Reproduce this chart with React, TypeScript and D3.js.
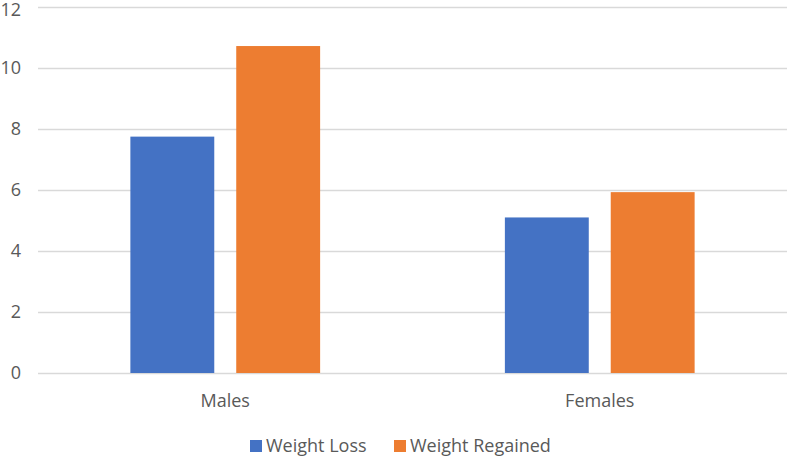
import { useEffect, useRef } from 'react';
import * as d3 from 'd3';

// values
const groups = ['Males', 'Females'];
const seriesNames = ['Weight Loss', 'Weight Regained'];
const seriesColors = ['#4472C4', '#ED7D31'];
const weightLoss = [7.75, 5.1];
const weightRegained = [10.72, 5.93];
const yTicks = [0, 2, 4, 6, 8, 10, 12];

export default function App() {
  const svgRef = useRef<SVGSVGElement>(null);

  useEffect(() => {
    if (!svgRef.current) return;
    const svg = d3.select(svgRef.current);
    svg.selectAll('*').remove();

    const width = 787;
    const height = 456;
    const margin = { top: 7, right: 0, bottom: 83, left: 38 };
    const font = '"Open Sans", "Liberation Sans", sans-serif';
    const fontSize = '18px';
    const textColor = '#595959';

    const x = d3
      .scaleBand<string>()
      .domain(groups)
      .range([margin.left, width - margin.right])
      .padding(0);

    const xInner = d3
      .scaleBand<string>()
      .domain(seriesNames)
      .range([0, x.bandwidth()])
      .paddingInner(0.2075)
      .paddingOuter(0.8726);

    const y = d3
      .scaleLinear()
      .domain([0, 12])
      .range([height - margin.bottom, margin.top]);

    const color = d3.scaleOrdinal<string>().domain(seriesNames).range(seriesColors);

    // gridlines
    svg
      .append('g')
      .selectAll('line')
      .data(yTicks)
      .enter()
      .append('line')
      .attr('x1', margin.left)
      .attr('x2', width - margin.right)
      .attr('y1', (d) => Math.round(y(d)) + 0.5)
      .attr('y2', (d) => Math.round(y(d)) + 0.5)
      .attr('stroke', '#D9D9D9')
      .attr('stroke-width', 1.5);

    // y tick labels (top one nudged down so it stays inside the frame)
    svg
      .append('g')
      .selectAll('text')
      .data(yTicks)
      .enter()
      .append('text')
      .attr('x', 21)
      .attr('y', (d) => Math.max(y(d), 10))
      .attr('dy', '0.35em')
      .attr('text-anchor', 'end')
      .attr('font-family', font)
      .attr('font-size', fontSize)
      .attr('fill', textColor)
      .text((d) => d);

    // bars
    const rows = groups.map((g, i) => ({
      group: g,
      values: [
        { name: seriesNames[0], value: weightLoss[i] },
        { name: seriesNames[1], value: weightRegained[i] },
      ],
    }));

    const groupSel = svg
      .append('g')
      .selectAll('g')
      .data(rows)
      .enter()
      .append('g')
      .attr('transform', (d) => `translate(${x(d.group)},0)`);

    groupSel
      .selectAll('rect')
      .data((d) => d.values)
      .enter()
      .append('rect')
      .attr('x', (d) => xInner(d.name) as number)
      .attr('width', xInner.bandwidth())
      .attr('y', (d) => y(d.value))
      .attr('height', (d) => y(0) - y(d.value))
      .attr('fill', (d) => color(d.name));

    // category labels
    svg
      .append('g')
      .selectAll('text')
      .data(groups)
      .enter()
      .append('text')
      .attr('x', (d) => (x(d) as number) + x.bandwidth() / 2)
      .attr('y', 407)
      .attr('text-anchor', 'middle')
      .attr('font-family', font)
      .attr('font-size', fontSize)
      .attr('fill', textColor)
      .text((d) => d);

    // legend
    const legendX = [250, 394];
    const legend = svg
      .append('g')
      .selectAll('g')
      .data(seriesNames)
      .enter()
      .append('g')
      .attr('transform', (d, i) => `translate(${legendX[i]},440)`);

    legend
      .append('rect')
      .attr('width', 12)
      .attr('height', 12)
      .attr('fill', (d) => color(d));

    legend
      .append('text')
      .attr('x', 16)
      .attr('y', 12)
      .attr('font-family', font)
      .attr('font-size', fontSize)
      .attr('fill', textColor)
      .text((d) => d);
  }, []);

  return (
    <svg
      ref={svgRef}
      width={787}
      height={456}
      style={{ position: 'absolute', left: 0, top: 0, background: '#fff' }}
    />
  );
}
